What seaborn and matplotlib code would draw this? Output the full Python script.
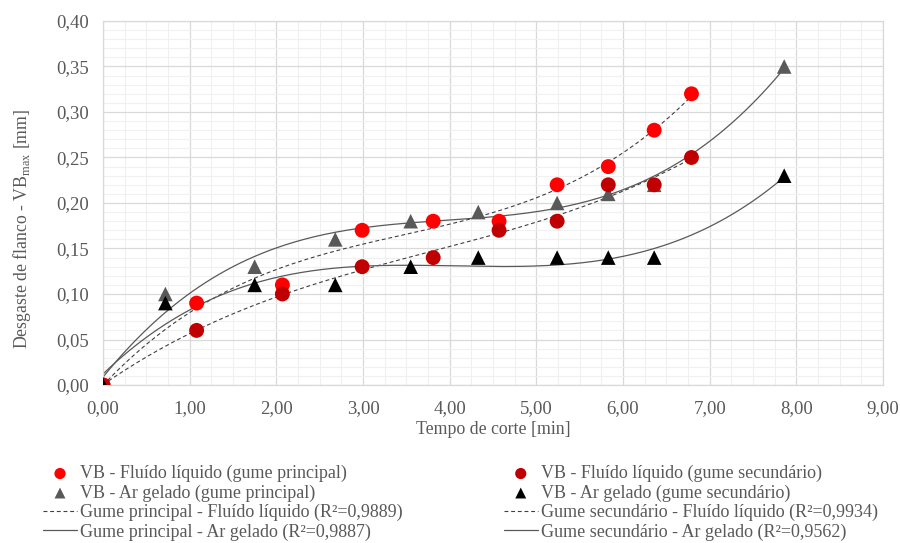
import numpy as np
import pandas as pd
import matplotlib.pyplot as plt
import seaborn as sns
from matplotlib.ticker import MultipleLocator, FuncFormatter

# valores
tempo_fluido = [0.00, 1.08, 2.07, 2.99, 3.81, 4.57, 5.24, 5.83, 6.36, 6.79]
vb_fluido_principal = [0.00, 0.09, 0.11, 0.17, 0.18, 0.18, 0.22, 0.24, 0.28, 0.32]
vb_fluido_secundario = [0.00, 0.06, 0.10, 0.13, 0.14, 0.17, 0.18, 0.22, 0.22, 0.25]

tempo_ar = [0.00, 0.72, 1.75, 2.68, 3.55, 4.33, 5.24, 5.83, 6.36, 7.86]
vb_ar_principal = [0.00, 0.10, 0.13, 0.16, 0.18, 0.19, 0.20, 0.21, 0.22, 0.35]
vb_ar_secundario = [0.00, 0.09, 0.11, 0.11, 0.13, 0.14, 0.14, 0.14, 0.14, 0.23]

r2_labels = {
    "fp": "Gume principal - Fluído líquido (R²=0,9889)",
    "ap": "Gume principal - Ar gelado (R²=0,9887)",
    "fs": "Gume secundário - Fluído líquido (R²=0,9934)",
    "as": "Gume secundário - Ar gelado (R²=0,9562)",
}

sns.set_style("white")
plt.rcParams["font.family"] = ["Liberation Serif", "DejaVu Serif"]
plt.rcParams["mathtext.fontset"] = "custom"
plt.rcParams["mathtext.rm"] = "Liberation Serif"

fig = plt.figure(figsize=(9, 5.43), dpi=100)
ax = fig.add_axes([103 / 900, 1 - 385 / 543, 780 / 900, 364 / 543])


def trend(x, y):
    # linha de tendência polinomial (ordem 3), como no Excel
    coef = np.polyfit(x, y, 3)
    xs = np.linspace(min(x), max(x), 200)
    return pd.DataFrame({"x": xs, "y": np.polyval(coef, xs)})


dash = (0, (3.5, 2.5))
tp = trend(tempo_fluido, vb_fluido_principal)
ts = trend(tempo_fluido, vb_fluido_secundario)
ap = trend(tempo_ar, vb_ar_principal)
asec = trend(tempo_ar, vb_ar_secundario)

sns.lineplot(data=tp, x="x", y="y", color="#404040", lw=0.8, linestyle=dash, label=r2_labels["fp"], ax=ax)
sns.lineplot(data=ap, x="x", y="y", color="#595959", lw=0.9, label=r2_labels["ap"], ax=ax)
sns.lineplot(data=ts, x="x", y="y", color="#404040", lw=0.8, linestyle=dash, label=r2_labels["fs"], ax=ax)
sns.lineplot(data=asec, x="x", y="y", color="#595959", lw=0.9, label=r2_labels["as"], ax=ax)

sns.scatterplot(x=tempo_fluido, y=vb_fluido_principal, color="#FF0000", marker="o", s=115,
                edgecolor="none", label="VB - Fluído líquido (gume principal)", ax=ax, zorder=4)
sns.scatterplot(x=tempo_ar, y=vb_ar_principal, color="#595959", marker="^", s=110,
                edgecolor="none", label="VB - Ar gelado (gume principal)", ax=ax, zorder=4)
sns.scatterplot(x=tempo_fluido, y=vb_fluido_secundario, color="#C00000", marker="o", s=115,
                edgecolor="none", label="VB - Fluído líquido (gume secundário)", ax=ax, zorder=4)
sns.scatterplot(x=tempo_ar, y=vb_ar_secundario, color="#000000", marker="^", s=110,
                edgecolor="none", label="VB - Ar gelado (gume secundário)", ax=ax, zorder=4)

if ax.get_legend() is not None:
    ax.get_legend().remove()

ax.set_xlim(0, 9)
ax.set_ylim(0, 0.40)
ax.xaxis.set_major_locator(MultipleLocator(1))
ax.xaxis.set_minor_locator(MultipleLocator(0.25))
ax.yaxis.set_major_locator(MultipleLocator(0.05))
ax.yaxis.set_minor_locator(MultipleLocator(0.01))
fmt = FuncFormatter(lambda v, p: f"{v:.2f}".replace(".", ","))
ax.xaxis.set_major_formatter(fmt)
ax.yaxis.set_major_formatter(fmt)

ax.grid(which="major", color="#d9d9d9", lw=0.9)
ax.grid(which="minor", color="#f0f0f0", lw=0.8)
ax.set_axisbelow(True)
for s in ax.spines.values():
    s.set_color("#d9d9d9")
    s.set_linewidth(0.9)

ax.tick_params(which="major", length=4, color="#bfbfbf", labelsize=13.5, labelcolor="#595959", pad=6)
ax.tick_params(axis="x", pad=7)
ax.tick_params(which="minor", length=0)

ax.set_xlabel("Tempo de corte [min]", fontsize=12.8, color="#595959", labelpad=3)
ax.set_ylabel(r"Desgaste de flanco - VB$_{\mathrm{max}}$ [mm]", fontsize=12.8, color="#595959")
ax.yaxis.set_label_coords(-0.090, 0.43)

# legenda em duas colunas abaixo do gráfico
h, l = ax.get_legend_handles_labels()
order = [4, 5, 0, 1, 6, 7, 2, 3]
fig.legend([h[i] for i in order], [l[i] for i in order], ncol=2, frameon=False,
           loc="upper left", bbox_to_anchor=(34 / 900, 1 - 456 / 543), borderpad=0,
           fontsize=13, labelcolor="#595959", handlelength=1.88, handletextpad=0.17,
           columnspacing=5.6, labelspacing=0.12, markerscale=0.75)

plt.savefig("out.png", dpi=100)
plt.close()
